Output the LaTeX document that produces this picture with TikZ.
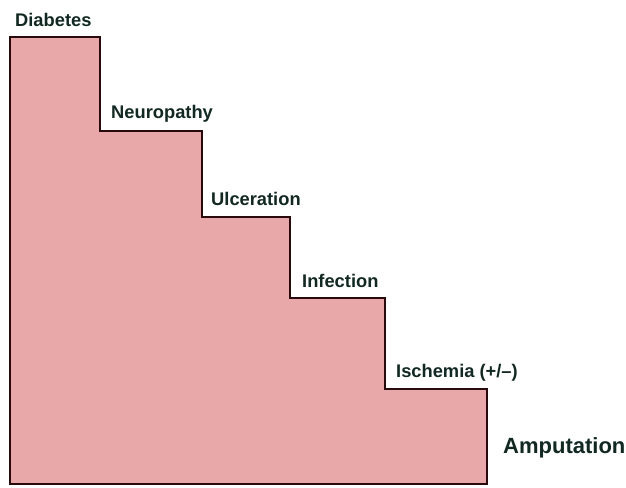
\documentclass[tikz,border=0pt]{standalone}
\usepackage{fontspec}
\setmainfont{Liberation Sans}
\definecolor{stairfill}{RGB}{232,168,170}
\definecolor{stairline}{RGB}{40,10,12}
\definecolor{labeltext}{RGB}{18,40,34}
\begin{document}
\begin{tikzpicture}[x=1pt,y=-1pt,
  lbl/.style={anchor=base west,inner sep=0pt,text=labeltext,font=\bfseries\fontsize{18.3}{20}\selectfont},
  biglbl/.style={lbl,font=\bfseries\fontsize{22}{24}\selectfont}]
\useasboundingbox (0,0) rectangle (626,487);
\draw[fill=stairfill,draw=stairline,line width=2.6pt,line join=miter]
  (10,37) -- (100,37) -- (100,131) -- (202,131) -- (202,217) -- (290,217)
  -- (290,298) -- (385,298) -- (385,389) -- (487,389) -- (487,484) -- (10,484) -- cycle;
\node[lbl] (diabetes) at (15,27) {Diabetes};
\node[lbl] (neuro) at (111,118) {Neuropathy};
\node[lbl] (ulcer) at (211,205) {Ulceration};
\node[lbl] (infect) at (302,287) {Infection};
\node[lbl] (isch) at (396,377) {Ischemia (+/–)};
\node[biglbl] (amput) at (503,453) {Amputation};
\end{tikzpicture}
\end{document}
